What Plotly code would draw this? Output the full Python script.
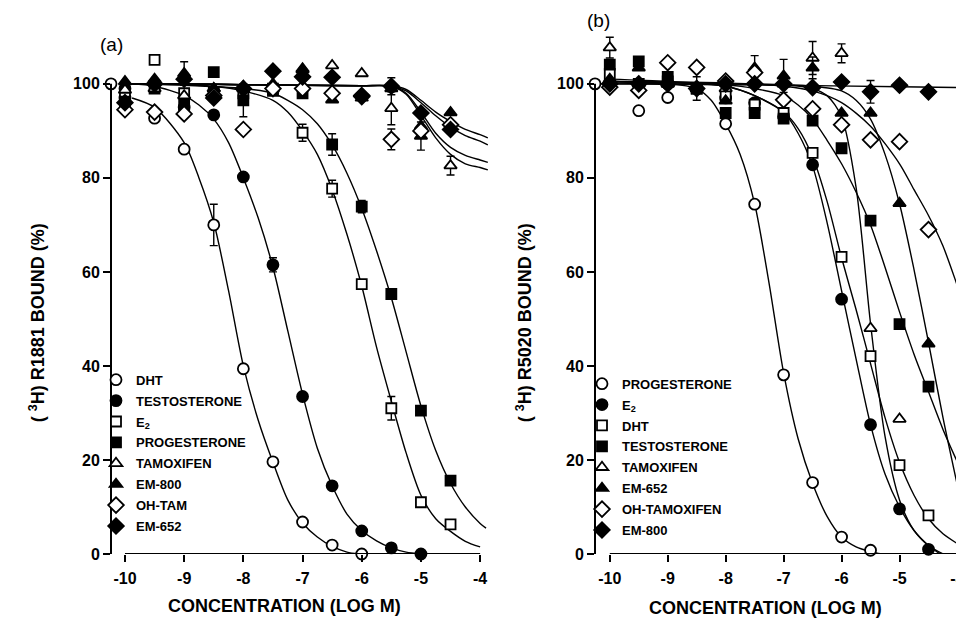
import plotly.graph_objects as go

# ---------------- data ----------------
X = [-10, -9.5, -9, -8.5, -8, -7.5, -7, -6.5, -6, -5.5, -5, -4.5]
x_ticks = [-10, -9, -8, -7, -6, -5, -4]
x_ticktext = ["-10", "-9", "-8", "-7", "-6", "-5", "-4"]
y_ticks = [0, 20, 40, 60, 80, 100]

# control (no competitor) value drawn on the y axis
ctrl_a_x, ctrl_b_x, ctrl_y = -10.236, -10.255, 100

# Panel (a): [3H]R1881 binding
a_dht_y = [97.0, 92.7, 86.1, 70.0, 39.4, 19.6, 6.8, 1.9, 0.0]
a_test_y = [99.0, 100.0, 95.0, 93.4, 80.2, 61.5, 33.5, 14.5, 4.9, 1.3, 0.0]
a_e2_y = [97.3, 105.1, 98.0, 98.3, 98.0, 99.0, 89.6, 77.7, 57.4, 31.0, 11.0, 6.3]
a_prog_y = [96.2, 99.0, 95.5, 102.5, 96.5, 98.5, 98.0, 87.1, 73.9, 55.3, 30.5, 15.6]
a_tam_y = [98.7, 99.0, 97.5, 99.0, 99.5, 99.0, 103.2, 103.9, 102.2, 94.8, 91.0, 82.6]
a_em800_y = [100.5, 101.0, 102.2, 99.0, 99.0, 100.0, 103.0, 96.6, 97.0, 99.0, 88.9, 93.9]
a_ohtam_y = [94.5, 94.0, 93.6, 97.5, 90.3, 99.0, 99.0, 98.0, 97.5, 88.2, 90.0, 91.3]
a_em652_y = [96.0, 100.0, 101.0, 97.0, 99.0, 102.7, 101.5, 101.4, 97.3, 99.5, 93.8, 90.3]

a_dht_err = [0, 0, 0, 4.4, 0, 0, 0, 0, 0]
a_test_err = [0, 0, 0, 0, 0, 1.5, 0, 0, 0, 0, 0]
a_e2_err = [0, 0, 0, 0, 0, 0, 1.8, 1.8, 0, 2.5, 0, 0]
a_prog_err = [0, 0, 0, 0, 3.5, 0, 0, 2.3, 1.3, 0, 0, 0]
a_tam_err = [0, 0, 0, 0, 0, 0, 0, 0, 0, 3.5, 0, 2.0]
a_em800_err = [0, 0, 2.5, 0, 0, 0, 0, 0, 0, 0, 3.0, 0]
a_ohtam_err = [0, 0, 0, 0, 0, 0, 0, 0, 0, 2.2, 0, 0]
a_em652_err = [0, 0, 0, 0, 0, 0, 0, 0, 0, 1.8, 0, 0]

# fitted curves, panel (a)
ca_dht_x = [-9.88, -9.5, -9.0, -8.75, -8.5, -8.25, -8.0, -7.75, -7.5, -7.25, -7.0, -6.75, -6.5, -6.25, -6.05]
ca_dht_y = [97.0, 95.0, 87.5, 80.0, 70.5, 56.0, 40.0, 28.5, 19.5, 11.5, 6.6, 3.6, 1.6, 0.4, 0.0]
ca_test_x = [-9.9, -9.5, -9.0, -8.75, -8.5, -8.25, -8.0, -7.75, -7.5, -7.25, -7.0, -6.75, -6.5, -6.25, -6.0, -5.75, -5.5, -5.25, -5.0]
ca_test_y = [100.0, 99.5, 97.5, 95.5, 92.5, 87.5, 80.0, 71.5, 61.0, 47.5, 34.0, 22.5, 14.5, 8.5, 5.0, 2.8, 1.3, 0.4, 0.0]
ca_e2_x = [-9.9, -9.0, -8.5, -8.0, -7.5, -7.25, -7.0, -6.75, -6.5, -6.25, -6.0, -5.75, -5.5, -5.25, -5.0, -4.75, -4.5, -4.25, -4.0]
ca_e2_y = [100.0, 99.8, 99.5, 98.5, 96.5, 94.0, 90.0, 85.0, 77.5, 68.0, 57.0, 44.0, 32.5, 21.5, 12.5, 7.5, 4.8, 2.7, 1.5]
ca_prog_x = [-9.9, -9.0, -8.0, -7.5, -7.25, -7.0, -6.75, -6.5, -6.25, -6.0, -5.75, -5.5, -5.25, -5.0, -4.75, -4.5, -4.25, -4.0, -3.9]
ca_prog_y = [100.0, 99.7, 99.0, 98.0, 96.5, 94.5, 91.5, 87.0, 81.0, 73.5, 64.5, 54.5, 43.0, 31.5, 22.0, 15.0, 10.0, 6.5, 5.5]
ca_up_x = [-10.0, -9.0, -8.0, -7.0, -6.0, -5.5, -5.25, -5.0, -4.75, -4.5, -4.25, -4.0, -3.87]
ca_tam_y = [100.0, 100.0, 99.8, 99.7, 99.6, 99.5, 97.8, 93.3, 88.5, 85.0, 83.0, 82.2, 81.7]
ca_em800_y = [100.0, 100.0, 99.8, 99.7, 99.6, 99.5, 98.0, 94.0, 89.5, 86.5, 84.8, 83.8, 83.3]
ca_ohtam_y = [100.0, 100.0, 99.8, 99.7, 99.6, 99.5, 98.5, 96.0, 93.2, 90.8, 89.0, 87.8, 87.0]
ca_em652_y = [100.0, 100.0, 99.8, 99.7, 99.6, 99.6, 98.8, 96.5, 94.0, 92.0, 90.3, 89.2, 88.5]

# Panel (b): [3H]R5020 binding
b_prog_y = [100.0, 94.3, 97.1, 99.0, 91.5, 74.4, 38.1, 15.2, 3.6, 0.8]
b_e2_y = [100.0, 100.0, 100.0, 99.0, 97.0, 96.0, 93.0, 82.8, 54.2, 27.5, 9.6, 1.0]
b_dht_y = [102.1, 100.0, 100.5, 99.0, 97.6, 95.6, 93.8, 85.3, 63.2, 42.1, 18.9, 8.2]
b_test_y = [104.1, 104.8, 101.5, 99.0, 93.8, 93.8, 92.6, 92.2, 86.3, 70.9, 48.9, 35.6]
b_tam_y = [107.7, 100.0, 100.0, 99.5, 99.0, 100.5, 100.0, 105.5, 106.5, 48.0, 28.7]
b_em652_y = [101.0, 103.4, 100.0, 99.0, 96.4, 103.4, 101.7, 103.4, 93.8, 93.8, 74.6, 44.7]
b_ohtam_y = [99.3, 98.6, 104.5, 103.5, 100.6, 102.4, 96.6, 94.7, 91.3, 88.1, 87.7, 69.0]
b_em800_y = [100.0, 100.0, 100.0, 99.0, 100.0, 100.0, 100.0, 99.2, 100.4, 98.3, 99.7, 98.3]

b_prog_err = [0] * 10
b_e2_err = [0] * 12
b_dht_err = [0] * 12
b_test_err = [0, 0, 0, 2.5, 0, 0, 0, 0, 0, 0, 0, 0]
b_tam_err = [2.2, 0, 0, 0, 0, 0, 0, 3.5, 2.0, 0, 0]
b_em652_err = [0, 0, 0, 0, 0, 2.6, 3.5, 2.3, 0, 0, 0, 0]
b_ohtam_err = [0] * 12
b_em800_err = [0, 0, 0, 0, 0, 0, 0, 0, 0, 2.4, 0, 0]

# fitted curves, panel (b)
cb_prog_x = [-10.0, -9.0, -8.5, -8.25, -8.0, -7.75, -7.5, -7.25, -7.0, -6.75, -6.5, -6.25, -6.0, -5.75, -5.5, -5.3]
cb_prog_y = [100.0, 100.0, 99.0, 96.5, 91.5, 85.0, 74.5, 57.5, 38.5, 24.5, 15.0, 8.0, 3.6, 1.5, 0.5, 0.0]
cb_e2_x = [-10.0, -9.0, -8.0, -7.5, -7.0, -6.75, -6.5, -6.25, -6.0, -5.75, -5.5, -5.25, -5.0, -4.75, -4.5, -4.25]
cb_e2_y = [100.5, 100.3, 99.5, 97.5, 94.0, 89.5, 82.5, 70.5, 56.0, 41.5, 27.5, 17.0, 10.0, 5.0, 1.8, 0.0]
cb_dht_x = [-10.0, -9.0, -8.0, -7.5, -7.0, -6.75, -6.5, -6.25, -6.0, -5.75, -5.5, -5.25, -5.0, -4.75, -4.5, -4.25, -4.0]
cb_dht_y = [101.0, 100.5, 99.5, 97.5, 94.0, 90.5, 84.5, 75.0, 63.0, 52.0, 40.5, 29.0, 19.5, 12.5, 7.5, 4.3, 2.2]
cb_tam_x = [-10.0, -8.0, -7.0, -6.5, -6.25, -6.0, -5.75, -5.5, -5.25, -5.0, -4.75, -4.5, -4.3]
cb_tam_y = [100.5, 100.0, 99.8, 99.0, 97.5, 93.0, 78.0, 49.0, 25.0, 11.5, 5.0, 1.8, 0.0]
cb_test_x = [-10.0, -9.0, -8.0, -7.5, -7.0, -6.75, -6.5, -6.25, -6.0, -5.75, -5.5, -5.25, -5.0, -4.75, -4.5, -4.25, -4.0]
cb_test_y = [100.5, 100.3, 99.8, 99.0, 97.5, 95.5, 92.5, 88.0, 83.0, 77.0, 70.0, 61.0, 51.5, 42.5, 34.5, 26.5, 19.5]
cb_em652_x = [-10.0, -8.0, -7.0, -6.5, -6.0, -5.75, -5.5, -5.25, -5.0, -4.75, -4.5, -4.25, -4.0]
cb_em652_y = [100.5, 100.0, 99.8, 99.5, 98.5, 96.5, 92.5, 85.0, 74.5, 60.5, 45.0, 29.0, 14.5]
cb_ohtam_x = [-10.0, -8.0, -7.0, -6.5, -6.0, -5.5, -5.0, -4.75, -4.5, -4.25, -4.0, -3.9]
cb_ohtam_y = [100.5, 100.2, 99.5, 98.5, 96.0, 91.0, 83.0, 77.5, 72.0, 65.5, 57.0, 53.5]
cb_em800_x = [-10.255, -7.0, -5.0, -3.88]
cb_em800_y = [100.0, 99.7, 99.4, 99.2]

# ---------------- styling ----------------
FONT = "Liberation Sans, Arial, Helvetica, sans-serif"
BLK = "black"

def mk(symbol, filled, size):
    return dict(symbol=symbol, size=size, color=BLK if filled else "white",
                line=dict(color=BLK, width=1.8))

M_OC = mk("circle", False, 11)
M_FC = mk("circle", True, 11)
M_OS = mk("square", False, 10)
M_FS = mk("square", True, 10)
M_OT = mk("triangle-up", False, 11)
M_FT = mk("triangle-up", True, 11)
M_OD = mk("diamond", False, 12)
M_FD = mk("diamond", True, 12)

fig = go.Figure()

def curve(xs, ys, xa, ya):
    fig.add_trace(go.Scatter(x=xs, y=ys, mode="lines", xaxis=xa, yaxis=ya,
                             line=dict(color=BLK, width=1.4, shape="spline", smoothing=0.8),
                             showlegend=False, hoverinfo="skip"))

def points(name, ys, errs, marker, xa, ya, legend, group):
    fig.add_trace(go.Scatter(x=X[:len(ys)], y=ys, mode="markers", name=name,
                             xaxis=xa, yaxis=ya, marker=marker, cliponaxis=False,
                             legend=legend, legendgroup=group,
                             error_y=dict(type="data", array=errs, visible=True,
                                          color=BLK, thickness=1.4, width=4)))

# curves (a)
for xs, ys in [(ca_dht_x, ca_dht_y), (ca_test_x, ca_test_y), (ca_e2_x, ca_e2_y),
               (ca_prog_x, ca_prog_y), (ca_up_x, ca_tam_y), (ca_up_x, ca_em800_y),
               (ca_up_x, ca_ohtam_y), (ca_up_x, ca_em652_y)]:
    curve(xs, ys, "x", "y")
# curves (b)
for xs, ys in [(cb_prog_x, cb_prog_y), (cb_e2_x, cb_e2_y), (cb_dht_x, cb_dht_y),
               (cb_tam_x, cb_tam_y), (cb_test_x, cb_test_y), (cb_em652_x, cb_em652_y),
               (cb_ohtam_x, cb_ohtam_y), (cb_em800_x, cb_em800_y)]:
    curve(xs, ys, "x2", "y2")

# control points on the y axes
fig.add_trace(go.Scatter(x=[ctrl_a_x], y=[ctrl_y], mode="markers", xaxis="x", yaxis="y",
                         marker=M_OC, cliponaxis=False, showlegend=False))
fig.add_trace(go.Scatter(x=[ctrl_b_x], y=[ctrl_y], mode="markers", xaxis="x2", yaxis="y2",
                         marker=M_OC, cliponaxis=False, showlegend=False))

# points (a)
a_series = [("DHT", a_dht_y, a_dht_err, M_OC), ("TESTOSTERONE", a_test_y, a_test_err, M_FC),
            ("E<sub>2</sub>", a_e2_y, a_e2_err, M_OS), ("PROGESTERONE", a_prog_y, a_prog_err, M_FS),
            ("TAMOXIFEN", a_tam_y, a_tam_err, M_OT), ("EM-800", a_em800_y, a_em800_err, M_FT),
            ("OH-TAM", a_ohtam_y, a_ohtam_err, M_OD), ("EM-652", a_em652_y, a_em652_err, M_FD)]
for i, (n, ys, es, m) in enumerate(a_series):
    points(n, ys, es, m, "x", "y", "legend", "a%d" % i)

b_series = [("PROGESTERONE", b_prog_y, b_prog_err, M_OC), ("E<sub>2</sub>", b_e2_y, b_e2_err, M_FC),
            ("DHT", b_dht_y, b_dht_err, M_OS), ("TESTOSTERONE", b_test_y, b_test_err, M_FS),
            ("TAMOXIFEN", b_tam_y, b_tam_err, M_OT), ("EM-652", b_em652_y, b_em652_err, M_FT),
            ("OH-TAMOXIFEN", b_ohtam_y, b_ohtam_err, M_OD), ("EM-800", b_em800_y, b_em800_err, M_FD)]
for i, (n, ys, es, m) in enumerate(b_series):
    points(n, ys, es, m, "x2", "y2", "legend2", "b%d" % i)

W, H = 964, 622
def px(x):
    return x / W
def py(y):
    return (H - y) / H

ydom = [py(554), py(24.5)]
axis_common = dict(showgrid=False, zeroline=False, showline=False, ticks="outside",
                   ticklen=7, tickwidth=1.8, tickcolor=BLK,
                   tickfont=dict(family=FONT, size=16, color=BLK, weight="bold"))

legend_font = dict(family=FONT, size=13, color=BLK, weight="bold")
fig.update_layout(
    width=W, height=H, paper_bgcolor="white", plot_bgcolor="white",
    margin=dict(l=0, r=0, t=0, b=0),
    xaxis=dict(domain=[px(103), px(481)], range=[-10.236, -3.85], tickvals=x_ticks,
               ticktext=x_ticktext, anchor="y", ticklabelstandoff=3, **axis_common),
    yaxis=dict(domain=ydom, range=[0, 111], tickvals=y_ticks, anchor="x", **axis_common),
    xaxis2=dict(domain=[px(587), px(957)], range=[-10.255, -3.87], tickvals=x_ticks,
                ticktext=x_ticktext, anchor="y2", ticklabelstandoff=3, **axis_common),
    yaxis2=dict(domain=ydom, range=[0, 111], tickvals=y_ticks, anchor="x2", **axis_common),
    legend=dict(x=px(88), y=py(362), xanchor="left", yanchor="top",
                bgcolor="rgba(0,0,0,0)", tracegroupgap=1, font=legend_font),
    legend2=dict(x=px(574), y=py(366), xanchor="left", yanchor="top",
                 bgcolor="rgba(0,0,0,0)", tracegroupgap=1, font=legend_font),
    showlegend=True,
)

# detached axis lines
for xa, ya in [("x", "y"), ("x2", "y2")]:
    fig.add_shape(type="line", xref=xa + " domain", yref=ya, x0=0, x1=0, y0=0, y1=100,
                  line=dict(color=BLK, width=2))
    fig.add_shape(type="line", xref=xa, yref=ya, x0=-10, x1=-4, y0=0, y1=0,
                  line=dict(color=BLK, width=2))

tfont = dict(family=FONT, size=18, color=BLK, weight="bold")
ann = [
    dict(text="(a)", x=px(103), y=py(37), font=dict(family=FONT, size=19, color=BLK)),
    dict(text="(b)", x=px(590), y=py(13), font=dict(family=FONT, size=19, color=BLK)),
    dict(text="CONCENTRATION (LOG M)", x=px(276), y=py(607), font=tfont),
    dict(text="CONCENTRATION (LOG M)", x=px(757), y=py(609), font=tfont),
    dict(text="( <sup>3</sup>H) R1881 BOUND (%)", x=px(29), y=py(320), textangle=-90, font=tfont),
    dict(text="( <sup>3</sup>H) R5020 BOUND (%)", x=px(516), y=py(320), textangle=-90, font=tfont),
]
for a in ann:
    fig.add_annotation(xref="paper", yref="paper", showarrow=False,
                       xanchor="center", yanchor="middle", **a)

fig.write_html("out.html")
